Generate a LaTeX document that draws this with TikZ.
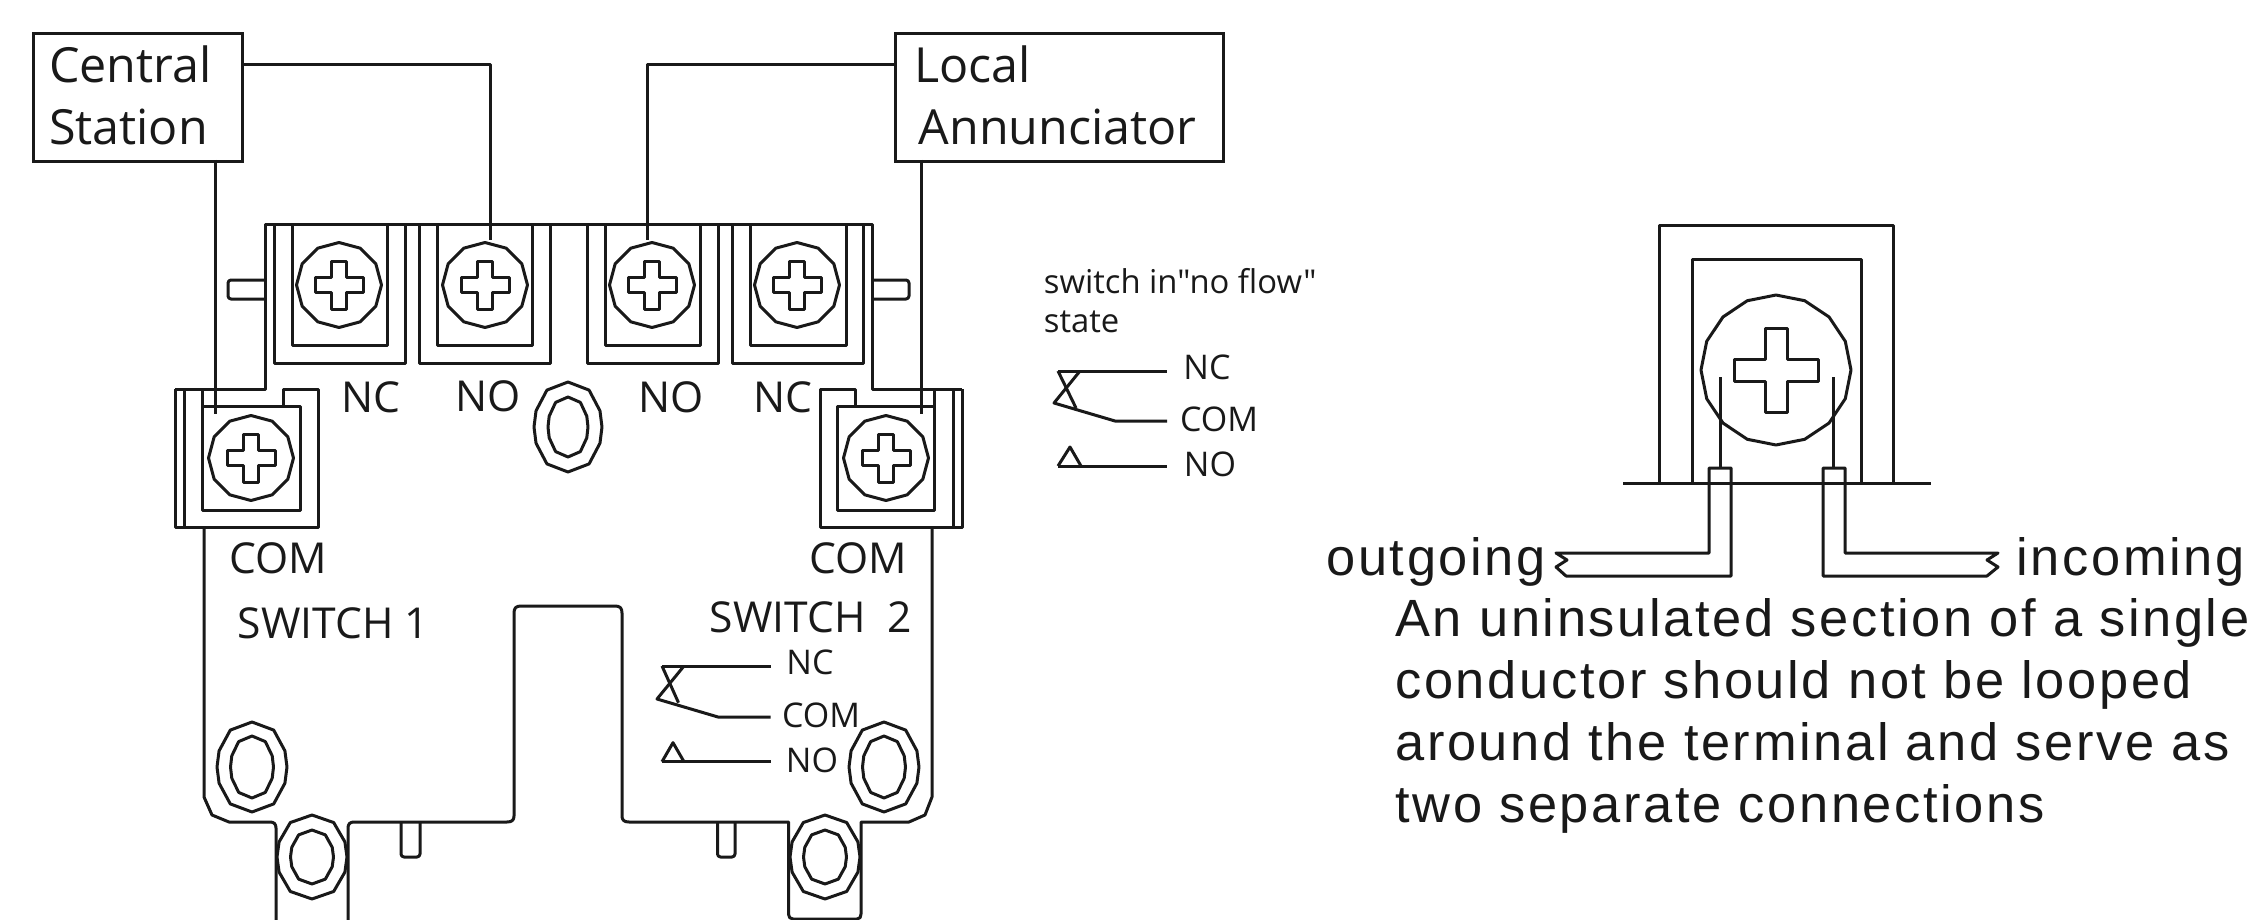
\documentclass[tikz,border=0pt]{standalone}
\usepackage{fontspec}
\setmainfont{Open Sans}
\newfontfamily\keyfont{Open Sans}
\newfontfamily\notefont[LetterSpace=5]{Liberation Sans}
\newcommand\screwhead[4]{% cx cy radius sides
  \draw[part] plot[samples=#4+1,domain=0:360] ({#1+#3*sin(\x)},{#2-#3*cos(\x)}) -- cycle;}
\newcommand\ovalloop[4]{% cx cy rx ry
  \draw[part] (#1,#2-#4) -- (#1+.62*#3,#2-.82*#4) -- (#1+.94*#3,#2-.36*#4) -- (#1+#3,#2) -- (#1+.94*#3,#2+.36*#4) -- (#1+.62*#3,#2+.82*#4) -- (#1,#2+#4) -- (#1-.62*#3,#2+.82*#4) -- (#1-.94*#3,#2+.36*#4) -- (#1-#3,#2) -- (#1-.94*#3,#2-.36*#4) -- (#1-.62*#3,#2-.82*#4) -- cycle;}
\newcommand\ovalnut[6]{\ovalloop{#1}{#2}{#3}{#4}\ovalloop{#1}{#2}{#5}{#6}}
\newcommand\crosshead[4]{% cx cy L W
  \draw[part] (#1-#4,#2-#3) -- (#1+#4,#2-#3) -- (#1+#4,#2-#4) -- (#1+#3,#2-#4) -- (#1+#3,#2+#4) -- (#1+#4,#2+#4) -- (#1+#4,#2+#3) -- (#1-#4,#2+#3) -- (#1-#4,#2+#4) -- (#1-#3,#2+#4) -- (#1-#3,#2-#4) -- (#1-#4,#2-#4) -- cycle;}
\newcommand\termscrew[2]{\screwhead{#1}{#2}{42.5}{12}\crosshead{#1}{#2}{24}{7.5}}
\newcommand\termU[4]{% outer l r, inner l r
  \draw[part] (#1,224) -- (#1,363) -- (#2,363) -- (#2,224);
  \draw[part] (#3,224) -- (#3,345) -- (#4,345) -- (#4,224);}
\tikzset{
  part/.style={line width=1.5pt,line join=round,draw=black!90},
  wire/.style={line width=1.5pt,line join=round,draw=black!90},
  labelbig/.style={inner sep=0pt,font=\fontsize{21.3}{24}\selectfont,text=black!90},
  labelsmall/.style={inner sep=0pt,font=\fontsize{17}{20}\selectfont,text=black!90},
  keytext/.style={inner sep=0pt,font=\keyfont\fontsize{16.4}{19.5}\selectfont,text=black!90},
  notetext/.style={inner sep=0pt,font=\notefont\fontsize{26.2}{31.2}\selectfont,text=black!90},
  stationbox/.style={draw=black!90,line width=1.5pt,inner sep=0pt,anchor=north west,align=left,
    font=\fontsize{24.2}{31}\selectfont,text=black!90}
}
\begin{document}
\begin{tikzpicture}[x=0.5pt,y=-0.5pt]
\useasboundingbox (0,0) rectangle (2260,920);
\fill[white] (0,0) rectangle (2260,920);

% boxes
\node[stationbox,minimum width=104.5pt,minimum height=64pt,text width=89pt] (cs) at (32,32) {Central\\Station\rule[-2pt]{0pt}{2pt}};
\node[stationbox,minimum width=164pt,minimum height=64pt,text width=146pt] (la) at (893.5,32) {\hspace*{0.7pt}Local\\\hspace*{2.9pt}Annunciator\rule[-2pt]{0pt}{2pt}};

% connector ends
\coordinate (csR) at (241,65);
\coordinate (laL) at (893.5,65);
\coordinate (csB) at (215,160);
\coordinate (laB) at (921.5,160);
\coordinate (t2) at (490,240);
\coordinate (t3) at (647,240);
\coordinate (t1c) at (215,414);
\coordinate (t4c) at (921.5,414);
\draw[wire] (csR) -| (t2);
\draw[wire] (laL) -| (t3);
\draw[wire] (csB) -- (t1c);
\draw[wire] (laB) -- (t4c);

% terminal strip
\draw[part] (175,389) -- (265,389) -- (265,224) -- (872,224) -- (872,389) -- (962,389);
\termU{274}{405}{292}{387}
\termU{419}{550}{437.5}{532.5}
\termU{587}{718}{605}{700}
\termU{732}{863.5}{750}{846}
\termscrew{339}{285}\termscrew{485}{285}\termscrew{652}{285}\termscrew{797}{285}
% tabs
\draw[part,rounded corners=1.5pt] (265,280) -- (228,280) -- (228,299) -- (265,299);
\draw[part,rounded corners=1.5pt] (872,280) -- (909,280) -- (909,299) -- (872,299);

% COM blocks
\draw[part] (175,389) -- (175,527) -- (318,527) -- (318,389) -- (283,389) -- (283,406);
\draw[part] (184,389) -- (184,527);
\draw[part] (202,389) -- (202,510) -- (300,510) -- (300,406) -- (202,406);
\termscrew{251}{458}
\draw[part] (962,389) -- (962,527) -- (820,527) -- (820,389) -- (855,389) -- (855,406);
\draw[part] (953,389) -- (953,527);
\draw[part] (934,389) -- (934,510) -- (837,510) -- (837,406) -- (934,406);
\termscrew{886}{458}

% housing
\draw[part] (204,527) -- (204,797) -- (212,815) -- (229,822) -- (270,822)
  .. controls (274,822) and (276,824) .. (276,828) -- (276,920);
\draw[part] (348,920) -- (348,828) .. controls (348,824) and (350,822) .. (354,822)
  -- (507,822) .. controls (512,822) and (514,820) .. (514,816) -- (514,613)
  .. controls (514,608) and (516,606) .. (521,606) -- (615,606)
  .. controls (620,606) and (622,608) .. (622,613) -- (622,816)
  .. controls (622,820) and (624,822) .. (629,822) -- (788.5,822) -- (788.5,914)
  .. controls (788.5,917) and (790,919) .. (793,919) -- (857,919)
  .. controls (860,919) and (861,917) .. (861,914) -- (861,822) -- (909,822)
  -- (925,815) -- (932,797) -- (932,527);
% pins
\draw[part,rounded corners=1.5pt] (401,822) -- (401,857) -- (420,857) -- (420,822);
\draw[part,rounded corners=1.5pt] (717.5,822) -- (717.5,857) -- (735,857) -- (735,822);

% nuts
\ovalnut{568}{427}{34}{45}{20}{30}
\ovalnut{252}{767}{35}{45}{21.5}{31}
\ovalnut{884}{767}{35}{45}{21.5}{31}
\fill[white] (312,857) ellipse[x radius=34,y radius=41];
\fill[white] (825,857) ellipse[x radius=34,y radius=41];
\ovalnut{312}{857}{35}{42}{21.5}{27}
\ovalnut{825}{857}{35}{42}{21.5}{27}

% labels on device
\node[labelbig] (l1) at (371,397) {NC};
\node[labelbig] (l2) at (488,396) {NO};
\node[labelbig] (l3) at (671,397) {NO};
\node[labelbig] (l4) at (783,397) {NC};
\node[labelbig] (l5) at (278,558) {COM};
\node[labelbig] (l6) at (858,558) {COM};
\node[labelbig] (l7) at (333.5,623) {SWITCH 1};
\node[labelbig] (l8) at (811,617) {SWITCH\ \ 2};

% symbol inside device
\draw[part] (662,666) -- (770.6,666);
\draw[part] (662,666) -- (678.5,702.7);
\draw[part] (684,666) -- (657,699) -- (718,717) -- (770.6,717);
\draw[part] (662,761.7) -- (770.6,761.7);
\draw[part] (662,761.7) -- (673,742.7) -- (684,761.7);
\node[labelsmall] (s1) at (810,662) {NC};
\node[labelsmall] (s2) at (821,715) {COM};
\node[labelsmall] (s3) at (812,760) {NO};

% legend symbol
\node[keytext,anchor=base west] (k0) at (1043.5,293) {switch in"no flow"};
\node[keytext,anchor=base west] (k00) at (1043.5,332) {state};
\draw[part] (1058,371) -- (1167,371);
\draw[part] (1058,371) -- (1076,408);
\draw[part] (1080,371) -- (1054,403) -- (1115,421) -- (1167,421);
\draw[part] (1058,466) -- (1167,466);
\draw[part] (1058,466) -- (1070,447) -- (1081,466);
\node[labelsmall] (k1) at (1207,367) {NC};
\node[labelsmall] (k2) at (1219,419) {COM};
\node[labelsmall] (k3) at (1210,464) {NO};

% right detail
\draw[part] (1623,483) -- (1931,483);
\draw[part] (1659,483) -- (1659,225) -- (1893,225) -- (1893,483);
\draw[part] (1692,483) -- (1692,259) -- (1861,259) -- (1861,483);
\screwhead{1776}{370}{75}{16}
\crosshead{1776}{370}{42}{11}
\draw[part] (1720,377) -- (1720,468);
\draw[part] (1833,377) -- (1833,468);
\draw[part] (1709,483) -- (1709,468) -- (1731,468) -- (1731,576) -- (1566,576) -- (1556,567) -- (1567,560) -- (1556,553) -- (1709,553) -- (1709,483);
\draw[part] (1823,483) -- (1823,468) -- (1845,468) -- (1845,553) -- (1998,553) -- (1987,560) -- (1998,567) -- (1987,576) -- (1823,576) -- (1823,483);

\node[notetext,anchor=base west] (o1) at (1326,575) {outgoing};
\node[notetext,anchor=base west] (o2) at (2016,575) {incoming};
\node[notetext,anchor=base west] (n1) at (1395,636) {An uninsulated section of a single};
\node[notetext,anchor=base west] (n2) at (1395,698) {conductor should not be looped};
\node[notetext,anchor=base west] (n3) at (1395,760) {around the terminal and serve as};
\node[notetext,anchor=base west] (n4) at (1395,822) {two separate connections};
\end{tikzpicture}
\end{document}
